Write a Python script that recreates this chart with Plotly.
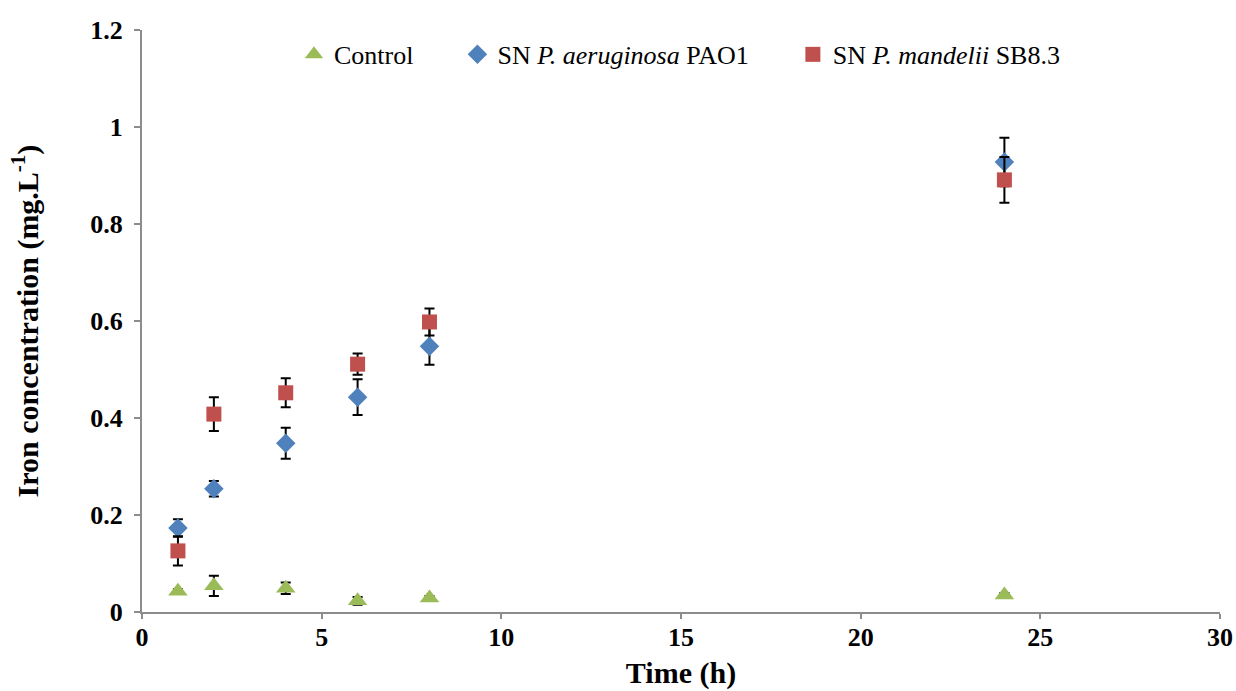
import plotly.graph_objects as go

time_h = [1, 2, 4, 6, 8, 24]
control = [0.043, 0.054, 0.049, 0.023, 0.029, 0.035]
control_err = [0.004, 0.021, 0.012, 0.008, 0.004, 0.004]
pao1 = [0.173, 0.254, 0.348, 0.443, 0.548, 0.928]
pao1_err = [0.018, 0.016, 0.032, 0.037, 0.038, 0.05]
sb83 = [0.126, 0.408, 0.452, 0.511, 0.598, 0.891]
sb83_err = [0.03, 0.035, 0.03, 0.022, 0.028, 0.047]

font_family = "Liberation Serif"
pad = "\u00a0" * 6

def err(vals):
    return dict(type="data", array=vals, visible=True, color="black", thickness=2, width=5)

fig = go.Figure()
fig.add_trace(go.Scatter(x=time_h, y=control, mode="markers", name="Control" + pad,
                         marker=dict(symbol="triangle-up", size=17, color="#9BBB59"),
                         error_y=err(control_err)))
fig.add_trace(go.Scatter(x=time_h, y=pao1, mode="markers", name="SN <i>P. aeruginosa</i> PAO1" + pad,
                         marker=dict(symbol="diamond", size=15, color="#4F81BD"),
                         error_y=err(pao1_err)))
fig.add_trace(go.Scatter(x=time_h, y=sb83, mode="markers", name="SN <i>P. mandelii</i> SB8.3",
                         marker=dict(symbol="square", size=15, color="#C0504D"),
                         error_y=err(sb83_err)))

fig.update_layout(
    width=1236, height=691,
    paper_bgcolor="white", plot_bgcolor="white",
    margin=dict(l=142, r=16, t=30, b=79),
    font=dict(family=font_family, color="black"),
    showlegend=True,
    legend=dict(orientation="h", x=0.141, y=0.958, xanchor="left", yanchor="middle",
                font=dict(size=26, family=font_family), itemwidth=30,
                bgcolor="rgba(0,0,0,0)"),
    xaxis=dict(range=[0, 30], tickvals=[0, 5, 10, 15, 20, 25, 30],
               automargin=False,
               showgrid=False, zeroline=False, showline=True, linecolor="#8c8c8c", linewidth=2,
               ticks="outside", tickcolor="#8c8c8c", ticklen=5, tickwidth=2,
               ticklabelstandoff=-4,
               tickfont=dict(size=26, family=font_family, weight="bold"),
               title=dict(text="<b>Time (h)</b>", font=dict(size=30, family=font_family), standoff=11)),
    yaxis=dict(range=[0, 1.2], tickvals=[0, 0.2, 0.4, 0.6, 0.8, 1, 1.2],
               ticktext=["0", "0.2", "0.4", "0.6", "0.8", "1", "1.2"],
               automargin=False,
               showgrid=False, zeroline=False, showline=True, linecolor="#8c8c8c", linewidth=2,
               ticks="outside", tickcolor="#8c8c8c", ticklen=6, tickwidth=2,
               ticklabelstandoff=6,
               tickfont=dict(size=26, family=font_family, weight="bold"),
               title=dict(text="<b>Iron concentration (mg.L<sup>-1</sup>)</b>", font=dict(size=30, family=font_family), standoff=43)),
)

fig.write_html("out.html", post_script="document.body.style.margin='0';",
               config={"displayModeBar": False})
